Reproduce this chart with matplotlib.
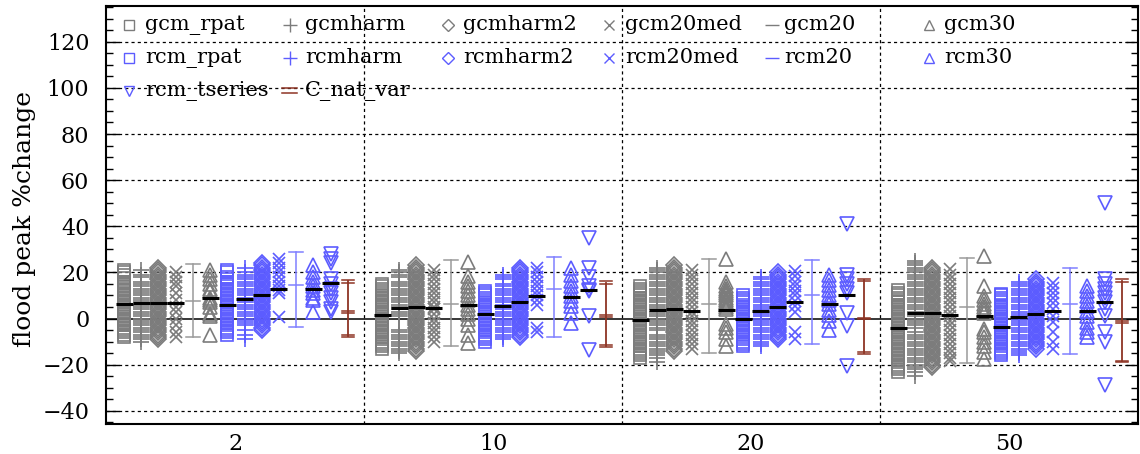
import numpy as np
import matplotlib.pyplot as plt

# return periods (years) on the x axis
periods = ['2', '10', '20', '50']

# % change in flood peak, one list per return period
gcm_rpat = [
    [21, 20, 19, 17.5, 16, 15, 14, 13, 12, 11, 10, 9, 8, 7, 6, 5, 4, 3, 2, 1, 0, -1, -2, -3, -4, -5, -6, -7, -8],
    [15, 14, 13, 12, 11, 10, 9, 8, 7, 6, 5, 4, 3, 2, 1, 0, -1, -2, -3, -4, -5, -6, -7, -8, -9, -10, -11, -12, -13],
    [14, 13, 12, 11, 10, 9, 8, 7, 6, 5, 4, 3, 2, 1, 0, -1, -2, -3, -4, -5, -6, -7, -8, -9, -10, -11, -12, -13, -14, -15, -16, -17],
    [12.5, 11, 10, 9, 8, 7, 6, 5, 4, 3, 2, 1, 0, -1, -2, -3, -4, -5, -6, -7, -8, -9, -10, -11, -12, -13, -14, -15, -16, -17, -18, -19, -20, -21, -22, -23],
]
gcmharm = [
    [21, 19, 18, 16, 15, 14, 13, 12, 11, 10, 9, 8, 7, 6, 5, 4, 3, 2, 1, 0, -1, -2, -3, -4, -5, -6, -7, -8, -9, -10],
    [21, 20, 19, 18, 16, 15, 14, 13, 12, 11, 10, 9, 8, 7, 6, 5, 4, 3, 2, 1, -5, -6, -7, -8, -9, -10, -11, -12, -13, -14, -15],
    [22, 21, 20, 19, 18, 17, 16, 15, 14, 13, 12, 11, 10, 9, 8, 7, 6, 5, 4, 3, 2, 1, 0, -1, -2, -3, -4, -5, -7, -8, -9, -10, -11, -12, -13, -14, -15, -16, -17, -19],
    [25, 24, 23, 22, 21, 20, 19, 18, 17, 16, 15, 14, 13, 12, 11, 10, 9, 8, 7, 6, 5, 4, 3, 2, 1, 0, -1, -2, -3, -4, -6, -7, -8, -9, -10, -11, -12, -13, -14, -15, -16, -17, -18, -19, -20, -21, -22, -23, -25],
]
gcmharm2 = [
    [22, 21, 20, 19, 18, 17, 16, 15, 14, 13, 12, 11, 10, 9, 8, 7, 6, 5, 4, 3, 2, 1, 0, -1, -2, -3, -4, -5, -6, -7, -8, -9],
    [23, 22, 21, 20, 19, 18, 17, 16, 15, 14, 13, 12, 11, 10, 9, 8, 7, 6, 5, 4, 3, 2, 1, 0, -1, -2, -3, -4, -5, -6, -7, -8, -9, -10, -11, -12, -13, -14],
    [23, 22, 21, 20, 19, 18, 17, 16, 15, 14, 13, 12, 11, 10, 9, 8, 7, 6, 5, 4, 3, 2, 1, 0, -1, -2, -3, -4, -5, -6, -7, -8, -9, -10, -11, -12, -13, -14],
    [22, 21, 20, 19, 18, 17, 16, 15, 14, 13, 12, 11, 10, 9, 8, 7, 6, 5, 4, 3, 2, 1, 0, -1, -2, -3, -4, -5, -6, -7, -8, -9, -10, -11, -12, -13, -14, -15, -16, -17, -18, -19, -20, -21],
]
gcm20med = [
    [20, 18, 16, 14, 11, 8, 5, 3, 0, -3, -6, -8],
    [21, 19, 17, 15, 13, 11, 9, 7, 5, 4, 2, 0, -2, -4, -6, -8, -10],
    [21, 19, 17, 15, 13, 11, 9, 7, 5, 3, 1, -1, -3, -5, -7, -9, -11, -13],
    [21.5, 19, 17, 15, 13, 11, 9, 7, 5, 3, 1, -1, -3, -5, -7, -9, -11, -13, -15, -17, -18.5],
]
gcm30 = [
    [21, 19, 17, 15, 13, 12, 9, 8, 7, 5, 2, 1, -7],
    [24.5, 18.5, 16, 14, 12, 10, 8, 6, 4, 2, 0, -3, -7, -10.5],
    [26, 16, 14, 13, 12, 11, 10, 9, 8, 7, 6, 5, 4, -2.5, -4, -6, -9, -12],
    [27, 14.3, 9.8, 8, 6.5, 5, 3.5, 2.6, -4.6, -6, -8, -10, -12, -14.5, -17.5],
]
rcm_rpat = [
    [21, 20, 18, 17, 16, 15, 14, 13, 12, 11, 10, 9, 8, 7, 6, 5, 4, 3, 2, 1, 0, -1, -2, -3, -4, -5, -6, -7],
    [12, 11, 10, 9, 8, 7, 6, 5, 4, 3, 2, 1, 0, -1, -2, -3, -4, -5, -6, -7, -8, -9, -10],
    [10, 9, 8, 7, 6, 5, 4, 3, 2, 1, 0, -1, -2, -3, -4, -5, -6, -7, -8, -9, -10, -11, -12],
    [10.5, 10, 9, 8, 7, 6, 5, 4, 3, 2, 1, 0, -1, -2, -3, -4, -5, -6, -7, -8, -9, -10, -11, -12, -13, -14, -15, -16],
]
rcmharm = [
    [22, 20, 19, 18, 17, 16, 15, 14, 13, 12, 11, 10, 9, 8, 7, 6, 5, 4, 3, 2, 1, 0, -1, -2, -3, -5, -7, -9],
    [19, 18, 17, 15, 14, 13, 12, 11, 10, 9, 8, 7, 6, 5, 4, 3, 2, 1, 0, -1, -2, -3, -4, -5, -6, -7, -8, -9],
    [18, 17, 16, 15, 14, 13, 12, 11, 10, 9, 8, 7, 6, 5, 4, 3, 2, 1, 0, -1, -2, -3, -4, -5, -6, -7, -8, -9, -10, -11, -12],
    [16, 15, 14, 13, 12, 11, 10, 9, 8, 7, 6, 5, 4, 3, 2, 1, 0, -1, -2, -3, -4, -5, -6, -7, -8, -9, -10, -11, -12, -13, -14, -15, -16],
]
rcmharm2 = [
    [24, 23, 22, 21, 20, 19, 18, 17, 16, 15, 14, 13, 12, 11, 10, 9, 8, 7, 6, 5, 4, 3, 2, 1, 0, -1, -2, -3, -4, -5],
    [22, 21, 20, 19, 18, 17, 16, 15, 14, 13, 12, 11, 10, 9, 8, 7, 6, 5, 4, 3, 2, 1, 0, -1, -2, -3, -4, -5, -6, -7, -8],
    [20, 19, 18, 17, 16, 15, 14, 13, 12, 11, 10, 9, 8, 7, 6, 5, 4, 3, 2, 1, 0, -1, -2, -3, -4, -5, -6, -7, -8, -9],
    [17, 16, 15, 14, 13, 12, 11, 10, 9, 8, 7, 6, 5, 4, 3, 2, 1, 0, -1, -2, -3, -4, -5, -6, -7, -8, -9, -10, -11, -12, -13],
]
rcm20med = [
    [26, 24, 22, 20, 18, 16, 14, 12.5, 11, 0.5],
    [22, 20, 18, 16, 14, 12, 10, 8, 6, -4, -6],
    [20.5, 18.5, 16, 14, 12, 10, 7.5, 5.5, 3, -6, -9],
    [15.5, 13.3, 11.2, 9, 6.9, 4, 1.1, -1.7, -6, -10.3, -13.2],
]
rcm30 = [
    [23, 20, 18, 16, 14, 12.5, 11, 9, 8, 3],
    [22, 19, 16.2, 14, 11.9, 9.7, 7.5, 5.4, 2.5, -1.9],
    [19, 16.9, 14.7, 12.5, 10.4, 8.2, 6.1, 3.9, 1.7, -1.2, -4.8],
    [14, 11.9, 9.8, 7.6, 5.5, 3.3, 1.1, -1.7, -3.9, -6, -8.2],
]
rcm_tseries = [
    [28, 26, 24, 17, 15, 13, 11, 9, 7, 4, 3],
    [35, 22, 18, 14, 12.5, 12, 1, -13.5],
    [41, 19, 17, 15, 13, 11, 2.5, -3.3, -20.7],
    [50, 17, 15, 13, 11, 9, 7, 4, 1, -6, -10.3, -29],
]

# ensemble medians (black bars)
med_gcm_rpat = [6.5, 1.7, -0.7, -4.2]
med_gcmharm = [6.6, 4.6, 3.6, 2.2]
med_gcmharm2 = [6.9, 5.0, 4.2, 2.3]
med_gcm20med = [6.9, 4.6, 3.2, 1.6]
med_gcm30 = [8.7, 5.8, 3.9, 1.1]
med_rcm_rpat = [6.0, 2.0, -0.4, -3.6]
med_rcmharm = [8.3, 5.4, 3.2, 0.7]
med_rcmharm2 = [10.0, 7.1, 5.0, 1.9]
med_rcm20med = [13.0, 9.7, 7.1, 3.3]
med_rcm30 = [12.6, 9.3, 6.5, 3.3]
med_rcm_tseries = [15.6, 12.3, 10.0, 7.2]

# gcm20 / rcm20 ranges: low, middle, high
gcm20_lo = [-8.2, -11.7, -15.0, -19.4]
gcm20_mid = [7.4, 6.5, 6.1, 5.2]
gcm20_hi = [23.8, 25.2, 25.6, 26.1]
rcm20_lo = [-3.5, -8.0, -10.9, -15.2]
rcm20_mid = [14.7, 12.6, 10.1, 6.5]
rcm20_hi = [29.0, 26.8, 25.2, 22.0]

# natural variability: two estimates each for low, middle and high
nat_lo = [[-7.0, -8.0], [-11.6, -12.5], [-14.3, -15.4], [-18.2, -19.0]]
nat_mid = [[3.3, 2.6], [1.7, 0.7], [0.3, -0.4], [-1.0, -2.0]]
nat_hi = [[16.9, 15.5], [16.2, 14.8], [17.2, 16.2], [17.0, 15.8]]

GREY = '#7c7c7c'
GREY_L = '#9a9a9a'
BLUE = '#5c5cff'
BLUE_L = '#8080ff'
BROWN = '#8e3424'

plt.rcParams['font.family'] = 'DejaVu Serif'
plt.rcParams['font.size'] = 15

fig = plt.figure(figsize=(11.4, 4.54), dpi=100)
ax = fig.add_axes([106 / 1140, 30.5 / 454, 1032 / 1140, 417.5 / 454])

step = 0.0667
def xpos(g, slot):
    return g + 0.07 + slot * step

# name, values, medians, marker, size, colour, slot
scatter_series = [
    ('gcm_rpat', gcm_rpat, med_gcm_rpat, 's', 8.5, GREY, 0),
    ('gcmharm', gcmharm, med_gcmharm, '+', 12, GREY, 1),
    ('gcmharm2', gcmharm2, med_gcmharm2, 'D', 8, GREY, 2),
    ('gcm20med', gcm20med, med_gcm20med, 'x', 8.5, GREY, 3),
    ('gcm30', gcm30, med_gcm30, '^', 9.5, GREY, 5),
    ('rcm_rpat', rcm_rpat, med_rcm_rpat, 's', 8.5, BLUE, 6),
    ('rcmharm', rcmharm, med_rcmharm, '+', 12, BLUE, 7),
    ('rcmharm2', rcmharm2, med_rcmharm2, 'D', 8, BLUE, 8),
    ('rcm20med', rcm20med, med_rcm20med, 'x', 8.5, BLUE, 9),
    ('rcm30', rcm30, med_rcm30, '^', 9.5, BLUE, 11),
    ('rcm_tseries', rcm_tseries, med_rcm_tseries, 'v', 9.5, BLUE, 12),
]

for name, vals, meds, mk, ms, col, slot in scatter_series:
    for g in range(4):
        x = xpos(g, slot)
        ax.plot(np.full(len(vals[g]), x), vals[g], ls='none', marker=mk, ms=ms,
                mfc='none', mec=col, mew=1.2, zorder=3)
        ax.plot([x - 0.033, x + 0.033], [meds[g], meds[g]], color='black', lw=2.2,
                solid_capstyle='butt', zorder=5)

def range_bar(x, lo, mid, hi, col, hw=0.026):
    ax.plot([x, x], [lo, hi], color=col, lw=1.1, zorder=3)
    for v in (lo, mid, hi):
        ax.plot([x - hw, x + hw], [v, v], color=col, lw=1.1, zorder=3)

for g in range(4):
    range_bar(xpos(g, 4), gcm20_lo[g], gcm20_mid[g], gcm20_hi[g], GREY_L)
    range_bar(xpos(g, 10), rcm20_lo[g], rcm20_mid[g], rcm20_hi[g], BLUE_L)
    xn = xpos(g, 13)
    ax.plot([xn, xn], [np.mean(nat_lo[g]), np.mean(nat_hi[g])], color=BROWN, lw=1.3, zorder=3)
    for v in nat_lo[g] + nat_mid[g] + nat_hi[g]:
        ax.plot([xn - 0.024, xn + 0.024], [v, v], color=BROWN, lw=1.1, zorder=3)

# grid: dotted every 20, solid at zero, dotted group separators
for yv in range(-40, 140, 20):
    if yv == 0:
        ax.axhline(0, color='black', lw=1.1, zorder=2)
    else:
        ax.axhline(yv, color='black', lw=0.9, ls=(0, (2.5, 2.5)), zorder=1)
for xv in (1, 2, 3):
    ax.axvline(xv, color='black', lw=0.9, ls=(0, (2.5, 2.5)), zorder=1)

ax.set_xlim(0, 4)
ax.set_ylim(-45.5, 135.5)
ax.set_xticks([0.5, 1.5, 2.5, 3.5])
ax.set_xticklabels(periods)
ax.tick_params(axis='x', length=0, pad=7, labelsize=16)
ax.set_yticks(range(-40, 121, 20))
ax.set_yticks(range(-45, 136, 5), minor=True)
ax.tick_params(axis='y', which='major', direction='in', length=9, right=True, width=1,
               labelsize=16, pad=12)
ax.tick_params(axis='y', which='minor', direction='in', length=5, right=True, width=1)
ax.set_ylabel('flood peak %change', fontsize=18, va='center')
ax.yaxis.set_label_coords(-0.079, 0.49)
for s in ax.spines.values():
    s.set_linewidth(1.5)

# legend keys drawn by hand, in axes fraction
row_y = [0.955, 0.876, 0.797]
key_x = [0.0223, 0.178, 0.331, 0.487, 0.645, 0.797]
lab_x = [0.0378, 0.193, 0.346, 0.503, 0.657, 0.812]
legend_rows = [
    [('gcm_rpat', 's', GREY), ('gcmharm', '+', GREY), ('gcmharm2', 'D', GREY),
     ('gcm20med', 'x', GREY), ('gcm20', '_', GREY), ('gcm30', '^', GREY)],
    [('rcm_rpat', 's', BLUE), ('rcmharm', '+', BLUE), ('rcmharm2', 'D', BLUE),
     ('rcm20med', 'x', BLUE), ('rcm20', '_', BLUE), ('rcm30', '^', BLUE)],
    [('rcm_tseries', 'v', BLUE), ('C_nat_var', None, BROWN)],
]
key_size = {'s': 6.5, '+': 10, 'D': 6.5, 'x': 6.5, '_': 10, '^': 7.5, 'v': 7.5}
for r, row in enumerate(legend_rows):
    for c, (label, mk, col) in enumerate(row):
        y = row_y[r]
        if mk is None:
            for dy in (0.006, -0.006):
                ax.plot([key_x[c] - 0.007, key_x[c] + 0.007], [y + dy, y + dy], color=col,
                        lw=1.1, transform=ax.transAxes, clip_on=False)
        else:
            ax.plot([key_x[c]], [y], marker=mk, ms=key_size[mk], mfc='none', mec=col,
                    mew=1.0, transform=ax.transAxes, clip_on=False)
        ax.text(lab_x[c], y, label, transform=ax.transAxes, va='center', ha='left',
                fontsize=15)

fig.savefig('out.png', dpi=100)
